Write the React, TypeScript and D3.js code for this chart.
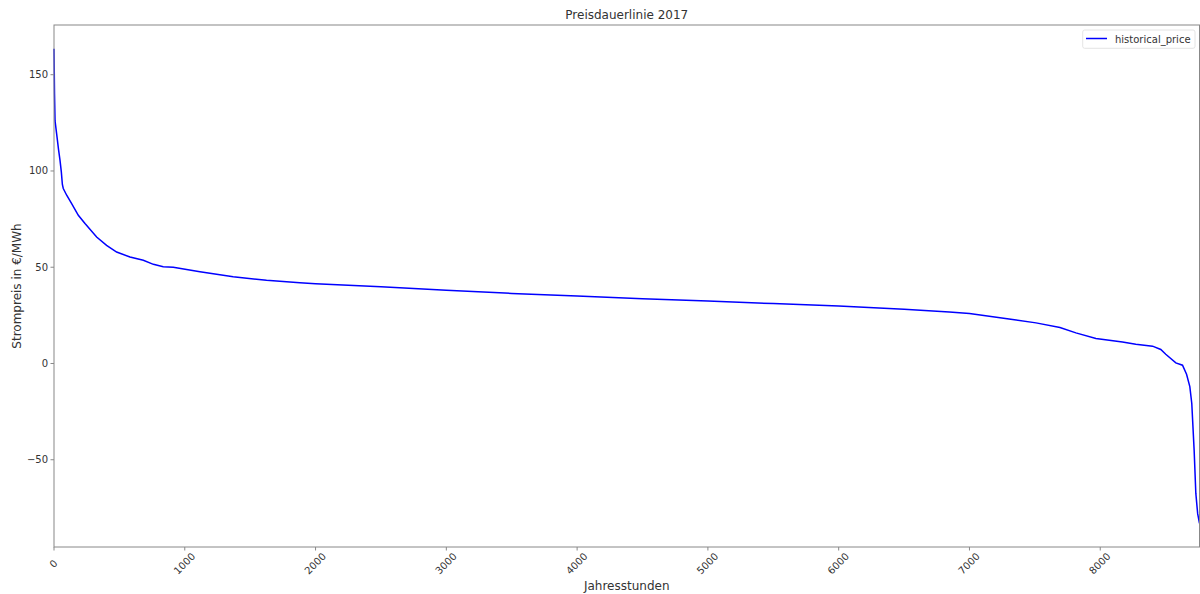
import React from "react";
import * as d3 from "d3";

const hours = [0, 4, 8, 20, 35, 46, 56, 64, 71, 97, 135, 186, 237, 326, 402, 479, 581, 683, 760, 835, 912, 1116, 1370, 1625, 1880, 2000, 2500, 3000, 3500, 4000, 4500, 5000, 5500, 6000, 6500, 6846, 7000, 7330, 7509, 7692, 7814, 7967, 8170, 8272, 8400, 8463, 8501, 8578, 8629, 8660, 8685, 8700, 8718, 8731, 8745, 8759];
const prices = [163.5, 140, 126, 119.4, 111, 105.5, 99.5, 93, 90.9, 87.4, 83, 77, 72.7, 65.7, 61.4, 57.9, 55.3, 53.6, 51.5, 50.2, 50, 47.6, 45, 43.2, 41.9, 41.4, 39.8, 38, 36.4, 35, 33.6, 32.4, 31.1, 29.8, 28.2, 26.8, 26, 22.8, 21.1, 18.7, 15.9, 13, 11.2, 10, 9, 7.3, 4.8, 0.3, -0.9, -5.6, -12, -20.8, -45, -67.5, -78, -83];

const xTicks = [0, 1000, 2000, 3000, 4000, 5000, 6000, 7000, 8000];
const yTicks = [-50, 0, 50, 100, 150];

const title = "Preisdauerlinie 2017";
const xLabel = "Jahresstunden";
const yLabel = "Strompreis in €/MWh";
const seriesName = "historical_price";

export default function App() {
  const W = 1200, H = 594;
  const left = 54, right = 1199.5, top = 25, bottom = 547;
  const x = d3.scaleLinear().domain([0, 8759]).range([left, right]);
  const yMin = d3.min(prices)!, yMax = d3.max(prices)!;
  const pad = (yMax - yMin) * 0.05;
  const y = d3.scaleLinear().domain([yMin - pad, yMax + pad]).range([bottom, top]);
  const pts = hours.map((h, i) => [h, prices[i]] as [number, number]);
  const line = d3.line<[number, number]>().x(d => x(d[0])).y(d => y(d[1]));
  const font = "DejaVu Sans, sans-serif";
  const txt = "#333";
  const spine = "#888";
  return (
    <svg width={W} height={H} style={{ position: "absolute", left: 0, top: 0, background: "#fff" }} fontFamily={font}>
      <rect x={0} y={0} width={W} height={H} fill="#fff" />
      <path d={line(pts) || ""} fill="none" stroke="#0000ff" strokeWidth={1.5} />
      <rect x={left} y={top} width={right - left} height={bottom - top} fill="none" stroke={spine} strokeWidth={1} />
      {xTicks.map(t => (
        <g key={t}>
          <line x1={x(t)} x2={x(t)} y1={bottom} y2={bottom + 3.5} stroke={spine} />
          <text transform={`translate(${x(t)},${bottom + 17}) rotate(-45)`} textAnchor="middle" dominantBaseline="middle" fontSize={10} fill={txt}>{t}</text>
        </g>
      ))}
      {yTicks.map(t => (
        <g key={t}>
          <line x1={left - 3.5} x2={left} y1={y(t)} y2={y(t)} stroke={spine} />
          <text x={left - 6} y={y(t)} textAnchor="end" dominantBaseline="central" fontSize={10} fill={txt}>{t === -50 ? "\u221250" : t}</text>
        </g>
      ))}
      <text x={(left + right) / 2} y={19} textAnchor="middle" fontSize={12} fill={txt}>{title}</text>
      <text x={(left + right) / 2} y={590} textAnchor="middle" fontSize={12} fill={txt}>{xLabel}</text>
      <text transform={`translate(21,${(top + bottom) / 2}) rotate(-90)`} textAnchor="middle" fontSize={12} fill={txt}>{yLabel}</text>
      <g>
        <rect x={1082.7} y={30} width={112.3} height={18.3} rx={2} fill="#fff" stroke="#ddd" strokeWidth={0.8} />
        <line x1={1086} x2={1107} y1={38.5} y2={38.5} stroke="#0000ff" strokeWidth={1.5} />
        <text x={1115} y={39} dominantBaseline="central" fontSize={10} fill={txt}>{seriesName}</text>
      </g>
    </svg>
  );
}
